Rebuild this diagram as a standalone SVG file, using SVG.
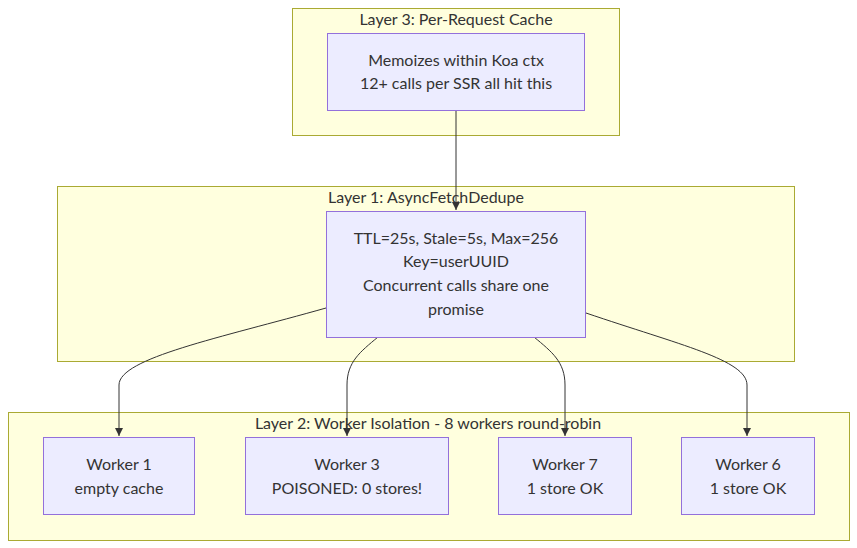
<svg xmlns="http://www.w3.org/2000/svg" width="857" height="548" viewBox="0 0 857 548">
<style>
.cl{fill:#ffffde;stroke:#aaaa33;stroke-width:1}
.nd{fill:#ececff;stroke:#9370db;stroke-width:1}
text{font-family:Lato,"Noto Sans",sans-serif;font-size:16px;fill:#333;text-anchor:middle}
.e{fill:none;stroke:#333;stroke-width:1}
</style>
<defs>
<marker id="ah" viewBox="0 0 10 10" refX="10" refY="5" markerWidth="8" markerHeight="8" markerUnits="userSpaceOnUse" orient="auto">
<path d="M0,0 L10,5 L0,10 z" fill="#333"/>
</marker>
</defs>
<g id="layer3">
<rect class="cl" x="292.5" y="8.5" width="327" height="127"/>
<text x="456" y="25">Layer 3: Per-Request Cache</text>
</g>
<g id="layer1">
<rect class="cl" x="57.5" y="186.5" width="737" height="175"/>
<text x="426" y="203">Layer 1: AsyncFetchDedupe</text>
</g>
<g id="layer2">
<rect class="cl" x="8.5" y="412.5" width="841" height="128"/>
<text x="428" y="429">Layer 2: Worker Isolation - 8 workers round-robin</text>
</g>
<g id="edges">
<path class="e" d="M456,110.5 L456,210" marker-end="url(#ah)"/>
<path class="e" d="M326,308 C220,338 119,358 119,385 L119,436" marker-end="url(#ah)"/>
<path class="e" d="M378,337 C360,352 347,362 347,385 L347,436" marker-end="url(#ah)"/>
<path class="e" d="M534,337 C552,352 565,362 565,385 L565,436" marker-end="url(#ah)"/>
<path class="e" d="M586,313 C680,345 747,360 747,385 L747,436" marker-end="url(#ah)"/>
</g>
<g id="cache">
<rect class="nd" x="327.5" y="33.5" width="257" height="77"/>
<text x="456" y="66">Memoizes within Koa ctx</text>
<text x="456" y="89">12+ calls per SSR all hit this</text>
</g>
<g id="dedupe">
<rect class="nd" x="326.5" y="211.5" width="259" height="126"/>
<text x="456" y="244">TTL=25s, Stale=5s, Max=256</text>
<text x="456" y="267">Key=userUUID</text>
<text x="456" y="291">Concurrent calls share one</text>
<text x="456" y="315">promise</text>
</g>
<g id="w1">
<rect class="nd" x="43.5" y="437.5" width="151" height="77"/>
<text x="119" y="470">Worker 1</text>
<text x="119" y="494">empty cache</text>
</g>
<g id="w3">
<rect class="nd" x="245.5" y="437.5" width="203" height="77"/>
<text x="347" y="470">Worker 3</text>
<text x="347" y="494">POISONED: 0 stores!</text>
</g>
<g id="w7">
<rect class="nd" x="498.5" y="437.5" width="133" height="77"/>
<text x="565" y="470">Worker 7</text>
<text x="565" y="494">1 store OK</text>
</g>
<g id="w6">
<rect class="nd" x="681.5" y="437.5" width="133" height="77"/>
<text x="748" y="470">Worker 6</text>
<text x="748" y="494">1 store OK</text>
</g>
</svg>
